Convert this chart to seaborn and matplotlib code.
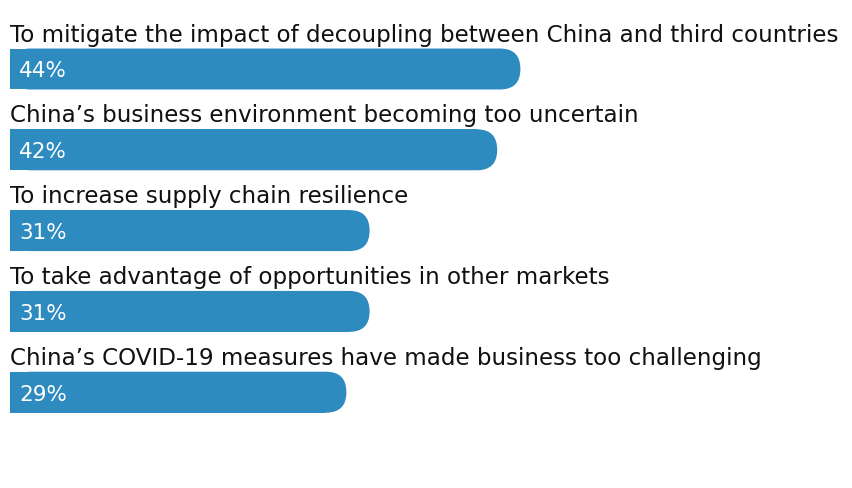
import matplotlib
matplotlib.use("Agg")
import matplotlib.pyplot as plt
import seaborn as sns
import pandas as pd
from matplotlib.patches import FancyBboxPatch

# data
reasons = [
    "To mitigate the impact of decoupling between China and third countries",
    "China\u2019s business environment becoming too uncertain",
    "To increase supply chain resilience",
    "To take advantage of opportunities in other markets",
    "China\u2019s COVID-19 measures have made business too challenging",
]
shares = [44, 42, 31, 31, 29]

bar_color = "#2e8bc0"
text_color = "#111111"

df = pd.DataFrame({"reason": reasons, "share": shares})

sns.set_theme(style="white")
plt.rcParams["font.family"] = ["DejaVu Sans"]

W, H = 853, 488
fig = plt.figure(figsize=(W / 100, H / 100), dpi=100)
ax = fig.add_axes([0, 0, 1, 1])

sns.barplot(data=df, x="share", y="reason", orient="h", color=bar_color,
            saturation=1, width=0.507, ax=ax)

# pixel layout: 0% at x=10px, 11.6 px per %, first bar centre 69px, 80.8 px step
px_per_pct = 11.6
px_per_row = 80.8
ax.set_xlim(-10 / px_per_pct, (W - 10) / px_per_pct)
ax.set_ylim((H - 69) / px_per_row, -69 / px_per_row)
ax.axis("off")

r_px = 20.4
rx = r_px / px_per_pct
aspect = px_per_pct / px_per_row

for p in list(ax.patches):
    x0, y0 = p.get_x(), p.get_y()
    w, h = p.get_width(), p.get_height()
    rounded = FancyBboxPatch((x0, y0), w, h,
                             boxstyle=f"round,pad=0,rounding_size={rx}",
                             mutation_aspect=aspect,
                             facecolor=bar_color, edgecolor="none", zorder=2)
    ax.add_patch(rounded)
    # keep left end square
    p.set_width(w - rx)
    p.set_zorder(3)
    p.set_edgecolor("none")

for i, (label, val) in enumerate(zip(reasons, shares)):
    top = i - 0.507 / 2
    ax.text(0, top - 7 / px_per_row, label, ha="left", va="baseline",
            fontsize=16.6, color=text_color, zorder=4)
    ax.text(33 / px_per_pct, i + 2.5 / px_per_row, f"{val}%", ha="center",
            va="center", fontsize=15.5, color="white", zorder=4)

fig.savefig("out.png", dpi=100)
